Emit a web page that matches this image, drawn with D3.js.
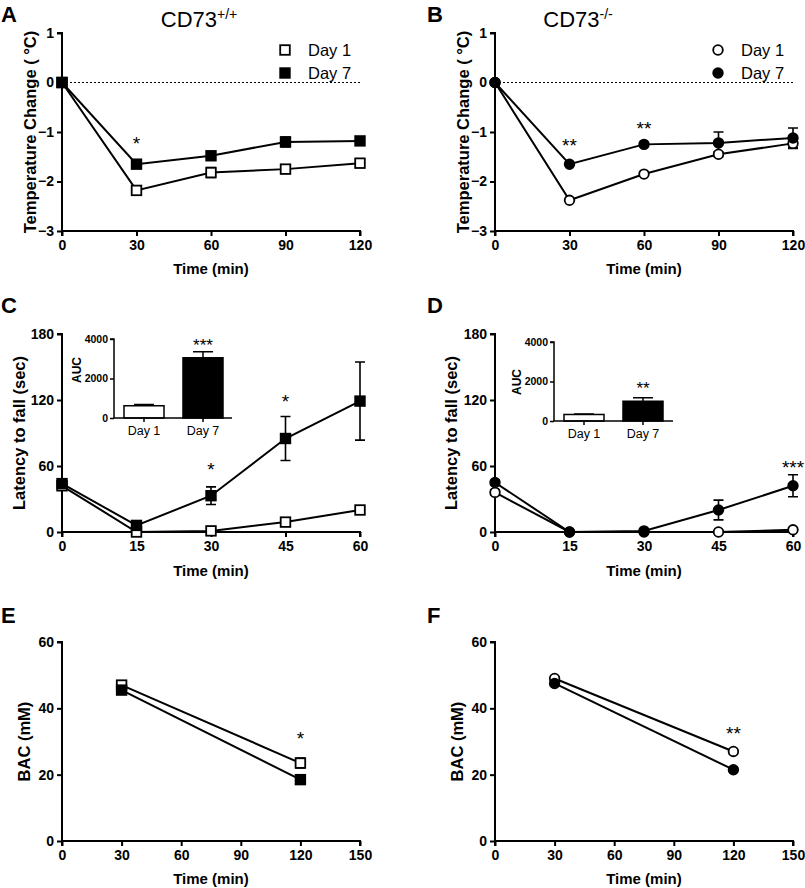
<!DOCTYPE html>
<html><head><meta charset="utf-8">
<script src="https://cdn.jsdelivr.net/npm/d3@7/dist/d3.min.js"></script>
<style>body{margin:0;background:#fff}svg{display:block;font-family:"Liberation Sans",Arial,sans-serif}</style>
</head><body><svg id="c" width="805" height="888"></svg>
<script>
// ---- data ----
const tempTime = [0, 30, 60, 90, 120];
const tempTicksY = [1, 0, -1, -2, -3];
const tempWT_d1 = [0, -2.18, -1.82, -1.75, -1.63];
const tempWT_d1_err = [0, 0.05, 0.1, 0.06, 0.04];
const tempWT_d7 = [0, -1.65, -1.48, -1.2, -1.18];
const tempWT_d7_err = [0, 0.04, 0.07, 0.1, 0.08];
const tempKO_d1 = [0, -2.38, -1.85, -1.45, -1.23];
const tempKO_d1_err = [0, 0.03, 0.03, 0.05, 0.1];
const tempKO_d7 = [0, -1.65, -1.25, -1.22, -1.12];
const tempKO_d7_err = [0, 0.03, 0.03, 0.22, 0.2];

const rotTime = [0, 15, 30, 45, 60];
const rotTicksY = [0, 60, 120, 180];
const rotWT_d1 = [42, 0, 1, 9, 20];
const rotWT_d1_err = [3, 0, 0, 1, 1.5];
const rotWT_d7 = [44, 6, 33, 85, 119];
const rotWT_d7_err = [4, 2, 8, 20, 35.5];
const rotKO_d1 = [36, 0, 0, 0, 2];
const rotKO_d1_err = [2, 0, 0, 0, 0.5];
const rotKO_d7 = [45, 0, 1, 20, 42];
const rotKO_d7_err = [2, 0, 1, 9, 10];

const aucCats = ["Day 1", "Day 7"];
const aucTicks = [0, 2000, 4000];
const aucWT = [620, 3050];
const aucWT_err = [60, 300];
const aucKO = [330, 1000];
const aucKO_err = [20, 180];

const bacTime = [30, 120];
const bacTicksX = [0, 30, 60, 90, 120, 150];
const bacTicksY = [0, 20, 40, 60];
const bacWT_d1 = [47, 23.5];
const bacWT_d1_err = [0.8, 1.5];
const bacWT_d7 = [45.5, 18.5];
const bacWT_d7_err = [0.5, 0.5];
const bacKO_d1 = [49, 27];
const bacKO_d1_err = [0.5, 0.6];
const bacKO_d7 = [47.5, 21.5];
const bacKO_d7_err = [0.5, 0.5];

const starsA = [{x: 30, y: -1.17, t: "*"}];
const starsB = [{x: 30, y: -1.2, t: "**"}, {x: 60, y: -0.85, t: "**"}];
const starsC = [{x: 30, y: 60, t: "*"}, {x: 45, y: 122, t: "*"}];
const starsD = [{x: 60, y: 62, t: "***"}];
const starsE = [{x: 120, y: 32, t: "*"}];
const starsF = [{x: 120, y: 33.5, t: "**"}];

// ---- drawing ----
const svg = d3.select("#c");
const FF = "'Liberation Sans',Arial,sans-serif";

function panel(o) {
  const g = svg.append("g");
  const x = d3.scaleLinear().domain(o.xd).range([o.l, o.r]);
  const y = d3.scaleLinear().domain(o.yd).range([o.b, o.t]);
  const ya = g.append("g").attr("transform", `translate(${o.l},0)`)
    .call(d3.axisLeft(y).tickValues(o.yt).tickSize(5).tickPadding(3).tickFormat(d3.format("d")));
  const xa = g.append("g").attr("transform", `translate(0,${y(o.xAt)})`)
    .call(d3.axisBottom(x).tickValues(o.xt).tickSize(5).tickPadding(4).tickFormat(d3.format("d")));
  [ya, xa].forEach(a => {
    a.select(".domain").attr("stroke", "#000").attr("stroke-width", 2);
    a.selectAll(".tick line").attr("stroke", "#000").attr("stroke-width", 2);
    a.selectAll("text").attr("fill", "#000").style("font-size", "14px").style("font-weight", "bold")
      .style("font-family", FF);
  });
  ya.select(".domain").attr("d", `M-5,${o.t}H0V${o.b}`);
  xa.select(".domain").attr("d", `M${o.l},5V0H${o.r}V5`);
  if (o.zeroLine) {
    g.append("line").attr("x1", o.l).attr("x2", o.r).attr("y1", y(0)).attr("y2", y(0))
      .attr("stroke", "#000").attr("stroke-width", 1).attr("stroke-dasharray", "2,2");
  }
  g.append("text").attr("x", (o.l + o.r) / 2).attr("y", o.xLabY).attr("text-anchor", "middle")
    .style("font-size", "15px").style("font-weight", "bold").text("Time (min)");
  g.append("text").attr("transform", `translate(${o.yLabX},${(o.t + o.b) / 2}) rotate(-90)`)
    .attr("text-anchor", "middle").attr("dy", "0.35em")
    .style("font-size", "16.5px").style("font-weight", "bold").text(o.yLab);
  o.series.forEach(s => {
    const pts = o.xs.map((xv, i) => ({x: xv, y: s.v[i], e: s.e[i]}));
    g.append("path").datum(pts).attr("fill", "none").attr("stroke", "#000").attr("stroke-width", 2)
      .attr("d", d3.line().x(d => x(d.x)).y(d => y(d.y)));
    pts.forEach(d => {
      if (y(d.y - d.e) - y(d.y + d.e) > 4) {
        const cx = x(d.x);
        g.append("path").attr("fill", "none").attr("stroke", "#000").attr("stroke-width", 1.6)
          .attr("d", `M${cx - 5},${y(d.y + d.e)}H${cx + 5}M${cx},${y(d.y + d.e)}V${y(d.y - d.e)}M${cx - 5},${y(d.y - d.e)}H${cx + 5}`);
      }
    });
    s.pts = pts;
  });
  o.series.forEach(s => {
    s.pts.forEach(d => marker(g, x(d.x), y(d.y), o.shape, s.filled));
  });
  o.stars.forEach(st => {
    g.append("text").attr("x", x(st.x)).attr("y", y(st.y) + 10).attr("text-anchor", "middle")
      .style("font-size", "19px").text(st.t);
  });
  return {x, y, g};
}

function marker(g, cx, cy, shape, filled) {
  if (shape === "square") {
    g.append("rect").attr("x", cx - 4.8).attr("y", cy - 4.8).attr("width", 9.6).attr("height", 9.6)
      .attr("fill", filled ? "#000" : "#fff").attr("stroke", "#000").attr("stroke-width", 1.8);
  } else {
    g.append("circle").attr("cx", cx).attr("cy", cy).attr("r", 4.8)
      .attr("fill", filled ? "#000" : "#fff").attr("stroke", "#000").attr("stroke-width", 1.8);
  }
}

function panelLetter(t, x, y) {
  svg.append("text").attr("x", x).attr("y", y).style("font-size", "22px").style("font-weight", "bold").text(t);
}

function title(main, sup, cx) {
  const t = svg.append("text").attr("x", cx).attr("y", 27).attr("text-anchor", "middle").style("font-size", "22px");
  t.append("tspan").text(main);
  t.append("tspan").attr("dy", -8).style("font-size", "14px").text(sup);
}

function legend(x0, shape) {
  [["Day 1", false, 50], ["Day 7", true, 73]].forEach(([lab, f, yy]) => {
    marker(svg, x0, yy, shape, f);
    svg.append("text").attr("x", x0 + 23).attr("y", yy + 6).style("font-size", "16.5px").text(lab);
  });
}

function inset(o) {
  const g = svg.append("g");
  const x = d3.scaleBand().domain(aucCats).range([o.b0, o.b1]).paddingInner(0.322).paddingOuter(0);
  const y = d3.scaleLinear().domain([0, 4000]).range([o.b, o.t]);
  o.vals.forEach((v, i) => {
    const bx = x(aucCats[i]), bw = x.bandwidth(), cx = bx + bw / 2;
    g.append("path").attr("fill", "none").attr("stroke", "#000").attr("stroke-width", 1.5)
      .attr("d", `M${cx},${y(v)}V${y(v + o.errs[i])}M${cx - 10},${y(v + o.errs[i])}H${cx + 10}`);
    g.append("rect").attr("x", bx).attr("y", y(v)).attr("width", bw).attr("height", y(0) - y(v))
      .attr("fill", i === 0 ? "#fff" : "#000").attr("stroke", "#000").attr("stroke-width", 1.5);
  });
  const ya = g.append("g").attr("transform", `translate(${o.l},0)`)
    .call(d3.axisLeft(y).tickValues(aucTicks).tickSize(4).tickPadding(2).tickFormat(d3.format("d")));
  ya.select(".domain").attr("d", `M-4,${o.t}H0V${o.b}`).attr("stroke-width", 1.5);
  ya.selectAll(".tick line").attr("stroke-width", 1.5);
  ya.selectAll("text").style("font-size", "10.5px").style("font-weight", "bold").style("font-family", FF);
  const xa = g.append("g").attr("transform", `translate(0,${o.b})`)
    .call(d3.axisBottom(x).tickSize(4).tickPadding(4));
  xa.select(".domain").attr("d", `M${o.l},0H${o.r}`).attr("stroke-width", 1.5);
  xa.selectAll(".tick line").attr("stroke-width", 1.5);
  xa.selectAll("text").style("font-size", "12.5px").style("font-family", FF);
  g.append("text").attr("transform", `translate(${o.labX},${o.labY}) rotate(-90)`).attr("text-anchor", "middle")
    .attr("dy", "0.35em").style("font-size", "12px").style("font-weight", "bold").text("AUC");
  const cx7 = x("Day 7") + x.bandwidth() / 2;
  g.append("text").attr("x", cx7).attr("y", o.starY).attr("text-anchor", "middle").style("font-size", "17px").text(o.star);
}

// Row 1
panel({l: 62, r: 360, t: 33, b: 231, xd: [0, 120], yd: [-3, 1], xt: tempTime, yt: tempTicksY, xAt: -3,
  zeroLine: true, xLabY: 274, yLabX: 30, yLab: "Temperature Change ( \u00B0C)", xs: tempTime, shape: "square",
  series: [{v: tempWT_d1, e: tempWT_d1_err, filled: false}, {v: tempWT_d7, e: tempWT_d7_err, filled: true}], stars: starsA});
panel({l: 495, r: 793, t: 33, b: 231, xd: [0, 120], yd: [-3, 1], xt: tempTime, yt: tempTicksY, xAt: -3,
  zeroLine: true, xLabY: 274, yLabX: 463, yLab: "Temperature Change ( \u00B0C)", xs: tempTime, shape: "circle",
  series: [{v: tempKO_d1, e: tempKO_d1_err, filled: false}, {v: tempKO_d7, e: tempKO_d7_err, filled: true}], stars: starsB});
legend(285, "square");
legend(718, "circle");
title("CD73", "+/+", 199);
title("CD73", "-/-", 578);

// Row 2
panel({l: 62, r: 360, t: 334, b: 532, xd: [0, 60], yd: [0, 180], xt: rotTime, yt: rotTicksY, xAt: 0,
  xLabY: 576, yLabX: 19, yLab: "Latency to fall (sec)", xs: rotTime, shape: "square",
  series: [{v: rotWT_d1, e: rotWT_d1_err, filled: false}, {v: rotWT_d7, e: rotWT_d7_err, filled: true}], stars: starsC});
panel({l: 495, r: 793, t: 334, b: 532, xd: [0, 60], yd: [0, 180], xt: rotTime, yt: rotTicksY, xAt: 0,
  xLabY: 576, yLabX: 451, yLab: "Latency to fall (sec)", xs: rotTime, shape: "circle",
  series: [{v: rotKO_d1, e: rotKO_d1_err, filled: false}, {v: rotKO_d7, e: rotKO_d7_err, filled: true}], stars: starsD});
inset({l: 114, r: 232, t: 339, b: 418, b0: 124, b1: 223, vals: aucWT, errs: aucWT_err, labX: 77, labY: 370, star: "***", starY: 351});
inset({l: 554, r: 673, t: 342, b: 421, b0: 564, b1: 663, vals: aucKO, errs: aucKO_err, labX: 517, labY: 382, star: "**", starY: 394});

// Row 3
panel({l: 62, r: 360, t: 642, b: 841, xd: [0, 150], yd: [0, 60], xt: bacTicksX, yt: bacTicksY, xAt: 0,
  xLabY: 884, yLabX: 24, yLab: "BAC (mM)", xs: bacTime, shape: "square",
  series: [{v: bacWT_d1, e: bacWT_d1_err, filled: false}, {v: bacWT_d7, e: bacWT_d7_err, filled: true}], stars: starsE});
panel({l: 495, r: 793, t: 642, b: 841, xd: [0, 150], yd: [0, 60], xt: bacTicksX, yt: bacTicksY, xAt: 0,
  xLabY: 884, yLabX: 457, yLab: "BAC (mM)", xs: bacTime, shape: "circle",
  series: [{v: bacKO_d1, e: bacKO_d1_err, filled: false}, {v: bacKO_d7, e: bacKO_d7_err, filled: true}], stars: starsF});

panelLetter("A", 1, 22);
panelLetter("B", 427, 22);
panelLetter("C", 1, 313);
panelLetter("D", 427, 313);
panelLetter("E", 1, 623);
panelLetter("F", 427, 623);
</script></body></html>
